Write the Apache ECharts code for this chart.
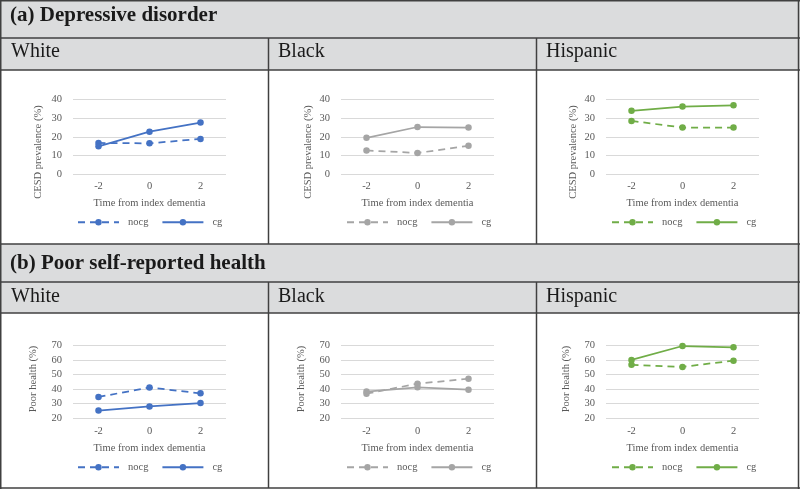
<!DOCTYPE html>
<html><head><meta charset="utf-8">
<script src="https://cdn.jsdelivr.net/npm/echarts@6/dist/echarts.min.js"></script>
<style>html,body{margin:0;padding:0;background:#fff}#c{width:800px;height:489px}</style>
</head><body><div id="c"></div><script>
// ---- data ----
const timePoints = ['-2', '0', '2'];
const races = ['White', 'Black', 'Hispanic'];
const seriesNames = ['nocg', 'cg'];
const sectionTitles = ['(a) Depressive disorder', '(b) Poor self-reported health'];
const yTitles = ['CESD prevalence (%)', 'Poor health (%)'];
const xTitle = 'Time from index dementia';

const cesdNocgWhite = [16.7, 16.5, 18.9];
const cesdCgWhite = [14.9, 22.8, 27.7];
const cesdNocgBlack = [12.7, 11.3, 15.2];
const cesdCgBlack = [19.5, 25.3, 25.0];
const cesdNocgHispanic = [28.6, 25.0, 25.0];
const cesdCgHispanic = [34.0, 36.3, 37.0];

const healthNocgWhite = [34.6, 41.1, 37.1];
const healthCgWhite = [25.3, 28.1, 30.4];
const healthNocgBlack = [36.9, 43.7, 47.1];
const healthCgBlack = [38.3, 41.2, 39.6];
const healthNocgHispanic = [56.6, 55.2, 59.5];
const healthCgHispanic = [60.0, 69.5, 68.6];

const yRangeA = [0, 40, 10];
const yRangeB = [20, 70, 10];

// ---- layout / styles ----
const raceColors = ['#4472C4', '#A5A5A5', '#70AD47'];
const FONT = '"Liberation Serif", "Times New Roman", serif';
const panelData = [
  [[cesdNocgWhite, cesdCgWhite], [cesdNocgBlack, cesdCgBlack], [cesdNocgHispanic, cesdCgHispanic]],
  [[healthNocgWhite, healthCgWhite], [healthNocgBlack, healthCgBlack], [healthNocgHispanic, healthCgHispanic]]
];
const yRanges = [yRangeA, yRangeB];
const gridLefts = [73, 341, 606];
const gridWidth = 153;
const gridTops = [99.7, 345.3];
const gridHeights = [74.3, 73];
const legendLefts = [77, 346, 611];
const legendCY = [222.7, 467.7];
const yTitleX = [[38, 308, 573], [33, 301.5, 566]];
const yTitleY = [152, 379];

const grids = [], xAxes = [], yAxes = [], series = [], legends = [], graphics = [];
let gi = 0;
for (let r = 0; r < 2; r++) {
  for (let c = 0; c < 3; c++) {
    grids.push({ left: gridLefts[c], top: gridTops[r], width: gridWidth, height: gridHeights[r], containLabel: false });
    xAxes.push({
      type: 'category', gridIndex: gi, data: timePoints, boundaryGap: true,
      axisLine: { show: false }, axisTick: { show: false },
      axisLabel: { margin: 7, color: '#595959', fontFamily: FONT, fontSize: 10.5 },
      name: xTitle, nameLocation: 'middle', nameGap: 24,
      nameTextStyle: { color: '#595959', fontFamily: FONT, fontSize: 10.5 }
    });
    yAxes.push({
      type: 'value', gridIndex: gi, min: yRanges[r][0], max: yRanges[r][1], interval: yRanges[r][2],
      axisLine: { show: false }, axisTick: { show: false },
      axisLabel: { margin: 11, color: '#595959', fontFamily: FONT, fontSize: 10.5 },
      splitLine: { lineStyle: { color: '#d9d9d9', width: 1 } }
    });
    const names = [];
    for (let s = 0; s < 2; s++) {
      const nm = seriesNames[s] + '_' + r + '_' + c;
      names.push(nm);
      series.push({
        name: nm, type: 'line', xAxisIndex: gi, yAxisIndex: gi,
        data: panelData[r][c][s],
        symbol: 'circle', symbolSize: 6.5,
        itemStyle: { color: raceColors[c] },
        lineStyle: { color: raceColors[c], width: 1.75, type: s === 0 ? [7, 5] : 'solid' },
        emphasis: { disabled: true }, animation: false
      });
    }
    legends.push({
      data: names, left: legendLefts[c], top: legendCY[r] - 6, padding: 0,
      itemWidth: 41, itemHeight: 8, itemGap: 13,
      formatter: n => n.split('_')[0],
      selectedMode: false,
      textStyle: { color: '#595959', fontFamily: FONT, fontSize: 10.5, padding: [0, 0, 0, 4] }
    });
    graphics.push({
      type: 'text', x: yTitleX[r][c], y: yTitleY[r], rotation: Math.PI / 2,
      style: { text: yTitles[r], fill: '#595959', font: '10.5px ' + FONT, textAlign: 'center', textVerticalAlign: 'middle' }
    });
    gi++;
  }
}

// bands and frame
const bandFill = '#dbdcdd';
const lineCol = '#404040';
[[0, 38], [38, 70], [244, 282], [282, 313]].forEach(b => {
  graphics.push({ type: 'rect', shape: { x: 0, y: b[0], width: 800, height: b[1] - b[0] }, style: { fill: bandFill }, z: -1 });
});
[0.75, 38, 70, 244, 282, 313, 488].forEach(y => {
  graphics.push({ type: 'line', shape: { x1: 0, y1: y, x2: 800, y2: y }, style: { stroke: lineCol, lineWidth: 1.5 } });
});
[0.75, 798.5].forEach(x => {
  graphics.push({ type: 'line', shape: { x1: x, y1: 0, x2: x, y2: 489 }, style: { stroke: lineCol, lineWidth: 1.5 } });
});
[268.5, 536.5].forEach(x => {
  graphics.push({ type: 'line', shape: { x1: x, y1: 38, x2: x, y2: 244 }, style: { stroke: lineCol, lineWidth: 1.5 } });
  graphics.push({ type: 'line', shape: { x1: x, y1: 282, x2: x, y2: 488 }, style: { stroke: lineCol, lineWidth: 1.5 } });
});
// headers
const secY = [15.5, 264];
sectionTitles.forEach((t, i) => {
  graphics.push({ type: 'text', x: 10, y: secY[i], style: { text: t, fill: '#1a1a1a', font: 'bold 21px ' + FONT, textVerticalAlign: 'middle' } });
});
const raceX = [11, 278, 546];
const raceY = [52, 297];
for (let r = 0; r < 2; r++) {
  races.forEach((t, c) => {
    graphics.push({ type: 'text', x: raceX[c], y: raceY[r], style: { text: t, fill: '#1a1a1a', font: '20px ' + FONT, textVerticalAlign: 'middle' } });
  });
}

const chart = echarts.init(document.getElementById('c'), null, { renderer: 'canvas' });
chart.setOption({
  backgroundColor: '#ffffff',
  animation: false,
  grid: grids, xAxis: xAxes, yAxis: yAxes, series: series, legend: legends,
  graphic: { elements: graphics }
});
</script></body></html>
